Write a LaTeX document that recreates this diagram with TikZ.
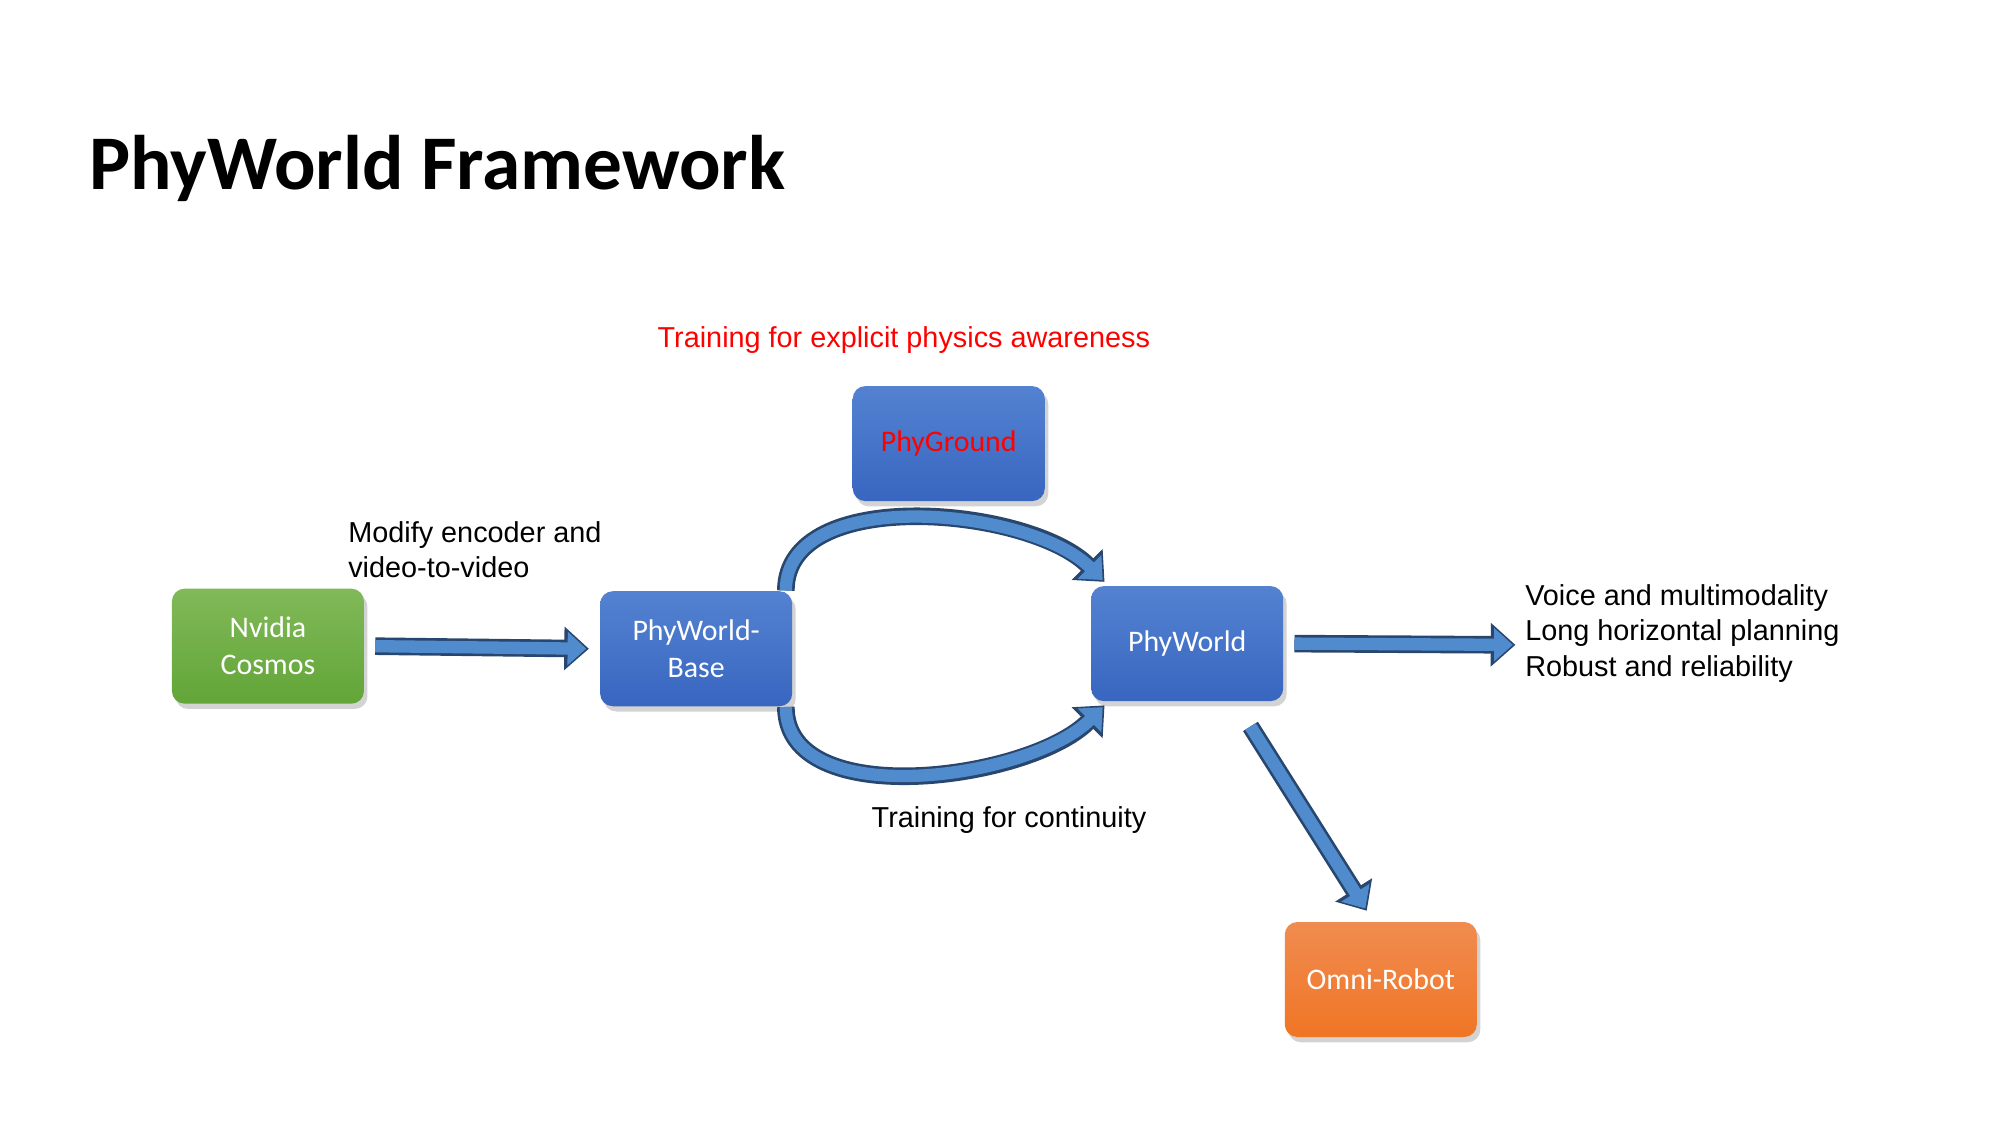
\documentclass[tikz,border=0pt]{standalone}
\usepackage{fontspec}
\setmainfont{Carlito}
\newfontfamily\arialf{Liberation Sans}
\usetikzlibrary{arrows.meta,shadows,positioning}

\begin{document}
\begin{tikzpicture}[x=0.01282cm, y=-0.01282cm,
                    box/.style={rounded corners=3.6pt, minimum width=1.92cm, minimum height=1.15cm,
                                text=white, align=center, font=\fontsize{8.5}{10.5}\selectfont,
                                drop shadow={shadow xshift=1pt, shadow yshift=-1.5pt, opacity=.35}},
                    bluebox/.style={box, top color={rgb,255:red,84;green,130;blue,209}, bottom color={rgb,255:red,56;green,102;blue,192}},
                    greenbox/.style={box, top color={rgb,255:red,129;green,185;blue,88}, bottom color={rgb,255:red,98;green,165;blue,56}},
                    orangebox/.style={box, top color={rgb,255:red,240;green,140;blue,80}, bottom color={rgb,255:red,240;green,117;blue,37}},
                    label/.style={font=\arialf\fontsize{8.2}{9.9}\selectfont, align=left},
                    outer/.style={line width=5pt, draw={rgb,255:red,40;green,70;blue,110},
                                  -{Triangle[length=7pt 0, width=12pt 0]}},
                    inner/.style={line width=3.5pt, draw={rgb,255:red,80;green,140;blue,205},
                                  -{Triangle[length=5.3pt 0, width=9.2pt 0]}, shorten >=0.75pt},
                   ]

\useasboundingbox (0,0) rectangle (1560,878);

% title
\node[anchor=base west, font=\bfseries\fontsize{22}{26}\selectfont] (title) at (60,148) {PhyWorld Framework};

% boxes
\node[greenbox] (cosmos) at (209,504) {Nvidia\\Cosmos};
\node[bluebox] (base) at (543,506) {PhyWorld-\\Base};
\node[bluebox, text=red] (ground) at (740,346) {PhyGround};
\node[bluebox] (phyworld) at (926,502) {PhyWorld};
\node[orangebox] (robot) at (1077,764) {Omni-Robot};

% connectors
\coordinate (rightend) at (1182,503);
\foreach \s in {outer,inner} {
  \draw[\s] ([xshift=3pt]cosmos.east) -- ([xshift=-3pt]base.west);
  \draw[\s] ([xshift=3pt]phyworld.east) -- (rightend);
  \draw[\s] ([xshift=18pt,yshift=-7pt]phyworld.south) -- ([xshift=-4pt,yshift=3pt]robot.north);
  \draw[\s] ([xshift=-2pt]base.north east) to[out=90,in=135,looseness=0.85] ([xshift=4pt,yshift=1pt]phyworld.north west);
  \draw[\s] ([xshift=-2pt]base.south east) to[out=-90,in=-135,looseness=0.85] ([xshift=4pt,yshift=-1pt]phyworld.south west);
}

% labels
\node[label, anchor=north west] (modify) at (262,397) {Modify encoder and\\video-to-video};
\node[label, text=red] (explicit) at (705,265) {Training for explicit physics awareness};
\node[label] (continuity) at (787,640) {Training for continuity};
\node[label, anchor=west, font=\arialf\fontsize{8.2}{10.1}\selectfont] (goals) at (1180,494) {Voice and multimodality\\Long horizontal planning\\Robust and reliability};

\end{tikzpicture}
\end{document}
